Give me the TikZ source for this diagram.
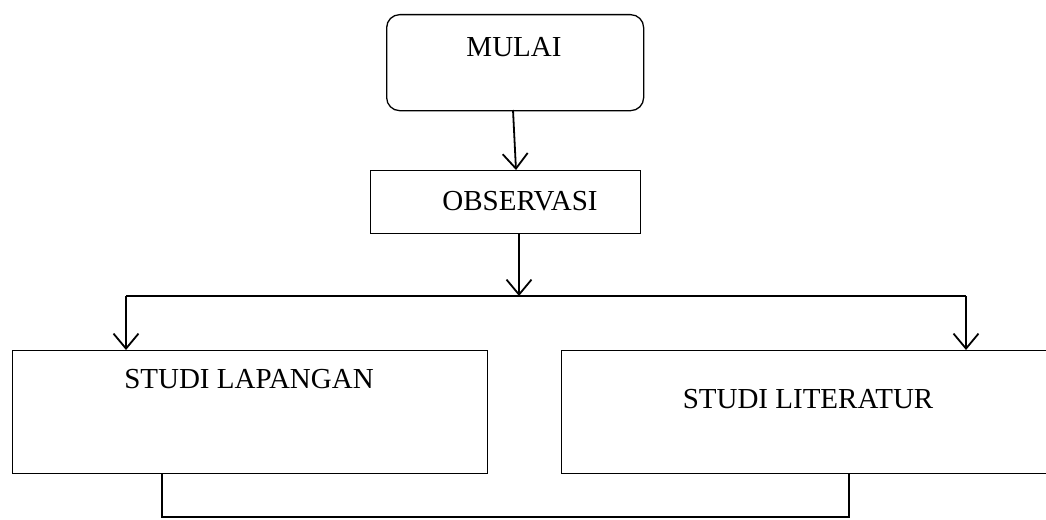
\documentclass[tikz,border=0pt]{standalone}
\usepackage{fontspec}
\setmainfont{Liberation Serif}
\usetikzlibrary{arrows.meta}
\begin{document}
\begin{tikzpicture}[x=1pt,y=-1pt,
  box/.style={draw,line width=1.3pt,inner sep=0pt,anchor=north west},
  lbl/.style={font=\fontsize{29}{32}\selectfont,inner sep=0pt},
  flow/.style={line width=1.8pt,-{Straight Barb[length=15pt,width=25pt,line width=1.8pt]}},
  link/.style={line width=1.3pt}]
\useasboundingbox (0,0) rectangle (1046,519);
% start terminal
\node[box,rounded corners=13pt,minimum width=257pt,minimum height=96pt] (mulai) at (386,14) {};
\node[lbl] (tmulai) at (514,47) {MULAI};
% observation step
\node[box,minimum width=270pt,minimum height=63pt] (obs) at (370,170) {};
\node[lbl] (tobs) at (520,201) {OBSERVASI};
% two study boxes
\node[box,minimum width=475pt,minimum height=123pt] (lap) at (12,350) {};
\node[lbl] (tlap) at (249,379) {STUDI LAPANGAN};
\node[box,minimum width=486pt,minimum height=123pt] (lit) at (561,350) {};
\node[lbl] (tlit) at (808,399) {STUDI LITERATUR};
% junctions
\coordinate (m1) at (513,110);
\coordinate (o1) at (516,170);
\coordinate (o2) at (519,233);
\coordinate (split) at (519,296);
\coordinate (lt) at (126,350);
\coordinate (rt) at (966,350);
\coordinate (lb) at (162,473);
\coordinate (rb) at (849,473);
\coordinate (low) at (162,517);
% connectors
\draw[flow] (m1) -- (o1);
\draw[flow] (o2) -- (split);
\draw[link] (126,296) coordinate (sl) -- (966,296) coordinate (sr);
\draw[flow] (sl) -- (lt);
\draw[flow] (sr) -- (rt);
\draw[link] (lb) -- (low) -| (rb);
\end{tikzpicture}
\end{document}
